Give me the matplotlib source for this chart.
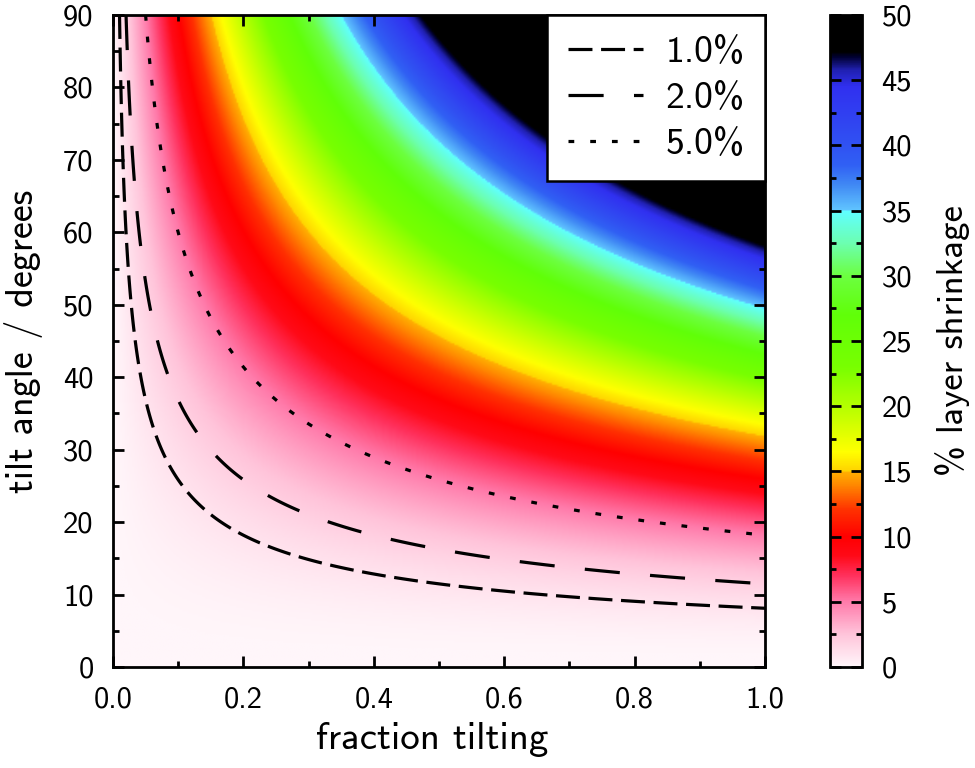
import numpy as np
import matplotlib
matplotlib.use("Agg")
import matplotlib.pyplot as plt
from matplotlib.colors import LinearSegmentedColormap
from matplotlib.lines import Line2D

plt.rcParams['font.family'] = ['cmss10', 'DejaVu Sans']
plt.rcParams['axes.unicode_minus'] = False
plt.rcParams['mathtext.fontset'] = 'cm'

# ---- data ----
fraction = np.linspace(0.0, 1.0, 401)          # fraction tilting
angle_deg = np.linspace(0.0, 90.0, 361)        # tilt angle / degrees
contour_levels = [1.0, 2.0, 5.0]
contour_labels = ["1.0%", "2.0%", "5.0%"]
x_ticks = [0.0, 0.2, 0.4, 0.6, 0.8, 1.0]
x_ticklabels = ["0.0", "0.2", "0.4", "0.6", "0.8", "1.0"]
y_ticks = [0, 10, 20, 30, 40, 50, 60, 70, 80, 90]
cbar_ticks = [0, 5, 10, 15, 20, 25, 30, 35, 40, 45, 50]

F, T = np.meshgrid(fraction, np.radians(angle_deg))
shrinkage = 100.0 * F * (1.0 - np.cos(T))      # % layer shrinkage

# ---- colour palette ----
stops = [
    (0.0, "#fff6fa"), (2.5, "#ffc4da"), (5.0, "#ff7aaa"), (7.0, "#ff305c"),
    (8.5, "#ff0a18"), (10.0, "#ff0000"), (12.0, "#ff3000"), (14.0, "#ff8a00"),
    (14.95, "#ffb000"), (15.05, "#ffd400"), (16.5, "#ffff00"), (20.0, "#b4ff00"),
    (23.0, "#78ff00"), (27.0, "#60ff08"), (30.0, "#6cff40"), (32.5, "#6cffb0"),
    (34.95, "#60ffff"), (35.05, "#60c4ff"), (37.0, "#4088f4"), (38.5, "#3060f4"),
    (40.0, "#3052f2"), (44.5, "#3030f0"), (45.8, "#2020b0"), (46.8, "#000030"),
    (47.2, "#000000"), (50.0, "#000000"),
]
cmap = LinearSegmentedColormap.from_list(
    "shrink", [(v / 50.0, c) for v, c in stops], N=1024)

fig = plt.figure(figsize=(9.75, 7.68), dpi=100)
ax = fig.add_axes([0.1159, 0.1315, 0.6687, 0.849])
cax = fig.add_axes([0.8513, 0.1315, 0.0328, 0.849])

im = ax.imshow(shrinkage, origin="lower", extent=[0, 1, 0, 90], aspect="auto",
               cmap=cmap, vmin=0, vmax=50, interpolation="bilinear")

lw = 2.3
styles = [(0, (7.5, 2.7)), (0, (11, 9.5)), (0, (1.8, 5.0))]
cs = ax.contour(fraction, angle_deg, shrinkage, levels=contour_levels,
                colors="black", linewidths=lw)
cs.set_linestyle(styles)

handles = [Line2D([], [], color="black", lw=lw, linestyle=ls) for ls in styles]
leg = ax.legend(handles, contour_labels, loc="upper right", fontsize=27,
                frameon=True, fancybox=False, framealpha=1.0, edgecolor="black",
                handlelength=2.0, handletextpad=0.6, borderpad=0.55,
                labelspacing=0.34, borderaxespad=0.0)
leg.get_frame().set_linewidth(1.8)
leg.set_zorder(5)

ax.set_xlim(0, 1)
ax.set_ylim(0, 90)
ax.set_xticks(x_ticks)
ax.set_xticklabels(x_ticklabels)
ax.set_yticks(y_ticks)
ax.set_xticks(np.arange(0.1, 1.0, 0.2), minor=True)
ax.set_yticks(np.arange(5, 90, 10), minor=True)
ax.tick_params(which="both", direction="in", top=True, right=True, width=2.0,
               labelsize=22)
ax.tick_params(axis="x", which="major", length=8, pad=14)
ax.tick_params(axis="y", which="major", length=8, pad=14)
ax.tick_params(which="minor", length=4)
for s in ax.spines.values():
    s.set_linewidth(2.0)
ax.set_xlabel("fraction tilting", fontsize=28)
ax.set_ylabel("tilt angle / degrees", fontsize=27.5)
ax.xaxis.set_label_coords(0.49, -0.084)
ax.yaxis.set_label_coords(-0.107, 0.5)

cb = fig.colorbar(im, cax=cax)
cb.set_ticks(cbar_ticks)
cb.ax.set_yticks(np.arange(2.5, 50, 5), minor=True)
cb.ax.tick_params(which="both", direction="in", left=True, right=True,
                  width=2.0, labelsize=22)
cb.ax.tick_params(which="major", length=8, pad=14)
cb.ax.tick_params(which="minor", length=4)
cb.outline.set_linewidth(2.0)
cb.set_label("% layer shrinkage", fontsize=26.5)
cb.ax.yaxis.set_label_coords(3.28, 0.5)

fig.savefig("out.png", dpi=100)
